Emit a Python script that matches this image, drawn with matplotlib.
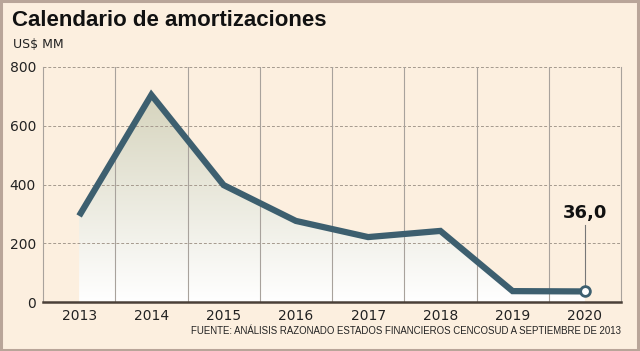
import matplotlib
matplotlib.use("Agg")
import matplotlib.pyplot as plt
import numpy as np
from matplotlib.patches import Rectangle

years = ["2013", "2014", "2015", "2016", "2017", "2018", "2019", "2020"]
values = [293, 705, 398, 276, 221, 242, 37, 36.0]
yticks = [0, 200, 400, 600, 800]

title = "Calendario de amortizaciones"
unit = "US$ MM"
source = "FUENTE: ANÁLISIS RAZONADO ESTADOS FINANCIEROS CENCOSUD A SEPTIEMBRE DE 2013"
last_label = "36,0"

bg = "#fcefdf"
line_color = "#3d5f6f"

fig = plt.figure(figsize=(6.4, 3.51), dpi=100)
fig.patch.set_facecolor(bg)
fig.patches.append(Rectangle((0.002, 0.003), 0.995, 0.994, transform=fig.transFigure,
                             fill=False, edgecolor="#b9a599", linewidth=2.2))

ax = fig.add_axes([43/640, 1-302/351, (621-43)/640, (302-67)/351])
ax.set_facecolor(bg)
x = np.arange(len(years))
ax.set_xlim(-0.5, len(years) - 0.5)
ax.set_ylim(0, 800)

# gradient area
poly = ax.fill_between(x, values, 0, color="none")
grad = np.linspace(1, 0, 256).reshape(-1, 1)
c_top = np.array([0xd6, 0xd4, 0xbd]) / 255
c_bot = np.array([1.0, 1.0, 1.0])
img = c_bot[None, None, :] * (1 - grad[..., None]) + c_top[None, None, :] * grad[..., None]
im = ax.imshow(img, extent=[0, len(years) - 1, 0, max(values)], aspect="auto",
               origin="upper", zorder=1)
path = poly.get_paths()[0]
im.set_clip_path(path, transform=ax.transData)

# grids
for y in yticks[1:]:
    ax.axhline(y, color="#a59a8e", lw=0.7, ls=(0, (3, 2)), zorder=2)
for b in np.arange(0.5, len(years) - 0.5, 1.0):
    ax.axvline(b, color="#a8a29c", lw=0.8, zorder=2)

ax.plot(x, values, color=line_color, lw=4.5, solid_joinstyle="miter",
        solid_capstyle="butt", zorder=4)
ax.plot([x[-1], x[-1]], [values[-1], 262], color="#777777", lw=0.8, zorder=3)
ax.plot(x[-1], values[-1], "o", ms=7, mfc="white", mec=line_color, mew=2, zorder=5)
ax.text(x[-1], 272, last_label, ha="center", va="bottom", fontsize=13,
        fontweight="bold", color="#111111", zorder=6)

ax.spines["top"].set_visible(False)
ax.spines["right"].set_color("#a8a29c")
ax.spines["right"].set_linewidth(0.8)
ax.spines["left"].set_color("#a8a29c")
ax.spines["left"].set_linewidth(0.8)
ax.spines["bottom"].set_color("#4a4038")
ax.spines["bottom"].set_linewidth(1.8)

ax.set_xticks(x)
ax.set_xticklabels(years)
ax.set_yticks(yticks)
ax.tick_params(axis="both", length=0, labelsize=10, colors="#222222")
ax.tick_params(axis="x", pad=5)
ax.tick_params(axis="y", pad=5)

fig.text(12/640, 1-20/351, title, fontsize=16, fontweight="bold", color="#111111",
         va="center", ha="left", family=["Liberation Sans", "DejaVu Sans"])
fig.text(13/640, 1-45/351, unit, fontsize=9, color="#222222", va="center", ha="left")
fig.text(621/640, 1-331/351, source, fontsize=6.9, color="#222222", va="center", ha="right",
         family=["Liberation Sans", "DejaVu Sans"])

fig.savefig("out.png", dpi=100, facecolor=bg)
